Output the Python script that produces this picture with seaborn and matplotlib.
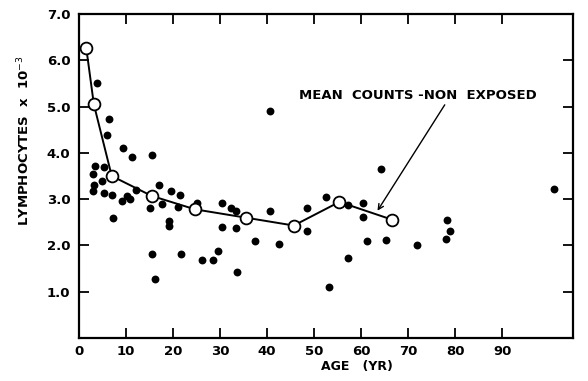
import matplotlib
matplotlib.use("Agg")
import matplotlib.pyplot as plt
import seaborn as sns
import pandas as pd

# individual counts (filled dots)
ages = [3.9, 6.4, 6.1, 9.3, 11.4, 15.6, 3.4, 5.3, 3.05, 4.9, 3.3, 3.05, 5.3, 7.1,
        9.1, 10.2, 10.9, 12.2, 17.1, 19.5, 21.5, 17.6, 15.2, 21.1, 7.2, 19.2, 19.2,
        15.5, 16.3, 21.7, 25.1, 26.2, 28.5, 29.6, 30.5, 30.5, 32.4, 33.5, 33.5, 33.6,
        37.5, 40.6, 42.6, 40.7, 48.5, 48.5, 52.5, 53.2, 57.3, 57.3, 60.5, 60.5, 61.2,
        64.2, 65.3, 72.0, 78.2, 78.9, 78.1, 101.1]
counts = [5.52, 4.74, 4.38, 4.11, 3.92, 3.95, 3.71, 3.70, 3.54, 3.40, 3.30, 3.18, 3.14, 3.10,
          2.97, 3.07, 3.00, 3.20, 3.30, 3.17, 3.10, 2.89, 2.80, 2.84, 2.60, 2.53, 2.42,
          1.81, 1.28, 1.81, 2.92, 1.68, 1.68, 1.89, 2.92, 2.39, 2.80, 2.74, 2.38, 1.43,
          2.09, 2.74, 2.04, 4.90, 2.81, 2.32, 3.04, 1.11, 2.88, 1.73, 2.91, 2.62, 2.10,
          3.65, 2.11, 2.01, 2.55, 2.32, 2.14, 3.21]

# mean counts, non exposed (open circles)
mean_ages = [1.6, 3.2, 7.0, 15.5, 24.7, 35.5, 45.7, 55.4, 66.5]
mean_counts = [6.26, 5.05, 3.5, 3.07, 2.78, 2.6, 2.43, 2.94, 2.56]

x_ticks = [0, 10, 20, 30, 40, 50, 60, 70, 80, 90]
y_ticks = [1, 2, 3, 4, 5, 6, 7]

sns.set_style("ticks", {"text.color": "black", "axes.labelcolor": "black",
                        "xtick.color": "black", "ytick.color": "black",
                        "axes.edgecolor": "black"})
plt.rcParams['font.family'] = ['DejaVu Sans']

fig = plt.figure(figsize=(5.88, 3.81), dpi=100)
ax = fig.add_axes([0.134, 0.113, 0.840, 0.850])

dots = pd.DataFrame({"age": ages, "count": counts})
means = pd.DataFrame({"age": mean_ages, "count": mean_counts})

sns.scatterplot(data=dots, x="age", y="count", ax=ax, color="black", s=32,
                edgecolor="black", linewidth=0, zorder=2)
sns.lineplot(data=means, x="age", y="count", ax=ax, color="black", linewidth=1.4,
             marker="o", markersize=8.5, markerfacecolor="white",
             markeredgecolor="black", markeredgewidth=1.3, zorder=3)

ax.set_xlim(0, 105)
ax.set_ylim(0, 7)
ax.set_xticks(x_ticks)
ax.set_xticklabels([str(t) for t in x_ticks], fontsize=9.5, fontweight="bold")
ax.set_yticks(y_ticks)
ax.set_yticklabels([f"{t:.1f}" for t in y_ticks], fontsize=9.5, fontweight="bold")
ax.tick_params(direction="in", length=7, width=1.3, top=True, right=True, pad=6,
               colors="black")
ax.tick_params(axis="x", pad=5)
for sp in ax.spines.values():
    sp.set_linewidth(1.6)
    sp.set_color("black")

ax.set_xlabel("AGE   (YR)", fontsize=9, fontweight="bold", color="black")
ax.xaxis.set_label_coords(0.563, -0.068)
ax.set_ylabel(r"LYMPHOCYTES  x  10$^{-3}$", fontsize=9.5, fontweight="bold", color="black")
ax.yaxis.set_label_coords(-0.095, 0.61)

ax.annotate("MEAN  COUNTS -NON  EXPOSED", xy=(63.5, 2.75), xytext=(46.9, 5.25),
            fontsize=9.5, fontweight="bold", va="center", ha="left", color="black",
            arrowprops=dict(arrowstyle="->", color="black", lw=1.0,
                            shrinkA=0, shrinkB=0,
                            relpos=(0.62, 0.0)))

fig.savefig("out.png", dpi=100)
